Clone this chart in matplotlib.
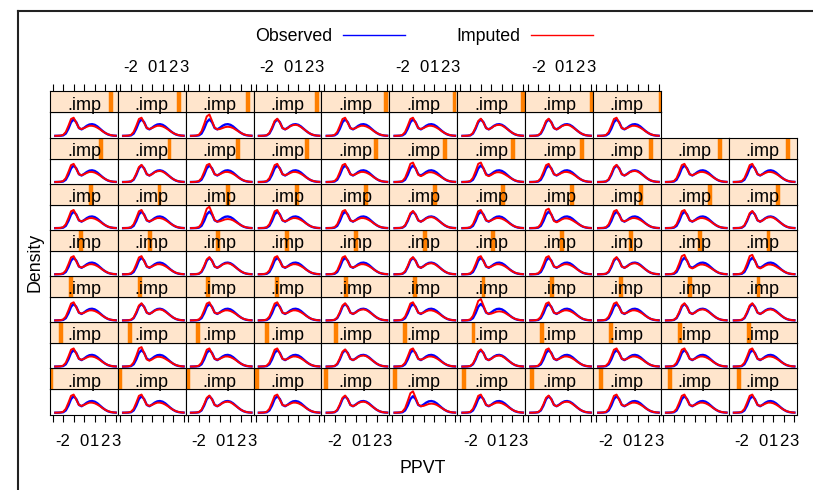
import matplotlib
matplotlib.use("Agg")
import matplotlib.pyplot as plt
from matplotlib.lines import Line2D
from matplotlib.patches import Rectangle

plt.rcParams['font.family'] = ['Liberation Sans', 'DejaVu Sans']

# density grid (PPVT, standardised) and curves
x_grid = [-2.75, -2.5, -2.25, -2.0, -1.75, -1.5, -1.25, -1.0, -0.75, -0.5, -0.25, 0.0,
          0.25, 0.5, 0.75, 1.0, 1.25, 1.5, 1.75, 2.0, 2.25, 2.5, 2.75, 3.0]

observed = [0.000, 0.002, 0.005, 0.015, 0.07, 0.22, 0.42, 0.51, 0.42, 0.24, 0.20, 0.25,
            0.31, 0.35, 0.36, 0.34, 0.29, 0.22, 0.15, 0.09, 0.045, 0.02, 0.008, 0.003]

# a few typical shapes of the imputed densities
imp_a = [0.001, 0.003, 0.008, 0.03, 0.12, 0.31, 0.52, 0.56, 0.40, 0.24, 0.21, 0.24,
         0.28, 0.31, 0.31, 0.29, 0.25, 0.20, 0.14, 0.09, 0.05, 0.025, 0.01, 0.004]
imp_b = [0.001, 0.003, 0.01, 0.035, 0.14, 0.36, 0.60, 0.66, 0.46, 0.25, 0.20, 0.21,
         0.24, 0.27, 0.28, 0.27, 0.24, 0.19, 0.14, 0.09, 0.05, 0.025, 0.01, 0.004]
imp_c = [0.000, 0.002, 0.006, 0.02, 0.09, 0.26, 0.46, 0.53, 0.41, 0.24, 0.20, 0.24,
         0.30, 0.33, 0.34, 0.32, 0.27, 0.21, 0.15, 0.09, 0.05, 0.022, 0.009, 0.003]
imp_d = [0.001, 0.003, 0.009, 0.03, 0.13, 0.33, 0.56, 0.60, 0.42, 0.22, 0.18, 0.22,
         0.27, 0.30, 0.30, 0.28, 0.24, 0.19, 0.14, 0.09, 0.05, 0.025, 0.01, 0.004]
imp_shapes = {'a': imp_a, 'b': imp_b, 'c': imp_c, 'd': imp_d}

# which shape each of the 75 imputations (.imp = 1..75) looks like
panel_shape = list(
    "aacacbacaaa"   # .imp 1-11
    "adaacacaaaa"   # .imp 12-22
    "acaacabaacc"   # .imp 23-33
    "aacaacaacdd"   # .imp 34-44
    "aabaacadaac"   # .imp 45-55
    "acaaaddacaa"   # .imp 56-66
    "aabcaacca"     # .imp 67-75
)
n_imp = len(panel_shape)

x_ticks = [-3, -2, -1, 0, 1, 2, 3]
x_ticklabels = ['', '-2', '', '0', '1', '2', '3']

blue = '#0000FF'
red = '#FF0000'
strip_bg = '#FFE5CC'
strip_bar = '#FF7F00'

W, H = 813, 490
fig = plt.figure(figsize=(W / 100, H / 100), dpi=100)

# layout in pixels
left_px, right_px = 50, 796.5
top_px, bottom_px = 91.5, 414.5
n_cols, n_rows = 11, 7
col_w = (right_px - left_px) / n_cols
row_h = (bottom_px - top_px) / n_rows
strip_h = 21
panel_h = row_h - strip_h

xlim = (-3.25, 3.2)
ylim = (-0.055, 0.72)


def fig_rect(x0, y_bottom, w, h):
    return [x0 / W, 1 - y_bottom / H, w / W, h / H]


for k in range(n_imp):
    row = k // n_cols
    col = k % n_cols
    x0 = left_px + col * col_w
    pan_bottom = bottom_px - row * row_h
    strip_bottom = pan_bottom - panel_h

    ax = fig.add_axes(fig_rect(x0, pan_bottom, col_w, panel_h))
    ax.plot(x_grid, observed, color=blue, lw=1.7)
    ax.plot(x_grid, imp_shapes[panel_shape[k]], color=red, lw=1.4)
    ax.set_xlim(xlim)
    ax.set_ylim(ylim)
    ax.set_yticks([])
    for s in ax.spines.values():
        s.set_linewidth(0.8)
    if row == 0:
        ax.set_xticks(x_ticks)
        if col % 2 == 0:
            ax.set_xticklabels(x_ticklabels)
        else:
            ax.set_xticklabels([''] * len(x_ticks))
        ax.tick_params(axis='x', direction='out', length=5, width=0.8, pad=9, labelsize=12)
    else:
        ax.set_xticks([])

    st = fig.add_axes(fig_rect(x0, strip_bottom, col_w, strip_h))
    st.set_facecolor(strip_bg)
    st.set_xlim(xlim)
    st.set_ylim(0, 1)
    st.set_yticks([])
    for s in st.spines.values():
        s.set_linewidth(0.8)
    st.add_patch(Rectangle((k / n_imp, 0), 1 / n_imp, 1, transform=st.transAxes,
                           facecolor=strip_bar, edgecolor=strip_bar, lw=2.5, clip_on=True))
    st.text(0.5, 0.13, '.imp', transform=st.transAxes, ha='center', va='baseline',
            fontsize=13, color='black', zorder=5)
    if row == n_rows - 1:
        st.set_xticks(x_ticks)
        st.xaxis.tick_top()
        if col % 2 == 1:
            st.set_xticklabels(x_ticklabels)
        else:
            st.set_xticklabels([''] * len(x_ticks))
        st.tick_params(axis='x', direction='out', length=5, width=0.8, pad=7, labelsize=12)
    else:
        st.set_xticks([])

# legend
handles = [Line2D([], [], color=blue, lw=1.0), Line2D([], [], color=red, lw=1.0)]
fig.legend(handles, ['Observed', 'Imputed'], loc='center', bbox_to_anchor=(0.5216, 0.9245),
           ncol=2, frameon=False, markerfirst=False, fontsize=12.8,
           handlelength=3.5, handletextpad=0.6, columnspacing=2.9)

fig.text(0.520, 0.043, 'PPVT', ha='center', va='center', fontsize=12.8)
fig.text(0.043, 0.465, 'Density', ha='center', va='center', rotation=90, fontsize=12.8)

# window frame at left and top
fig.add_artist(Line2D([17.5 / W, 17.5 / W], [0, 1 - 11 / H], color='#222222', lw=1.5))
fig.add_artist(Line2D([17.5 / W, 1], [1 - 11 / H, 1 - 11 / H], color='#222222', lw=1.5))

fig.savefig('out.png', dpi=100)
